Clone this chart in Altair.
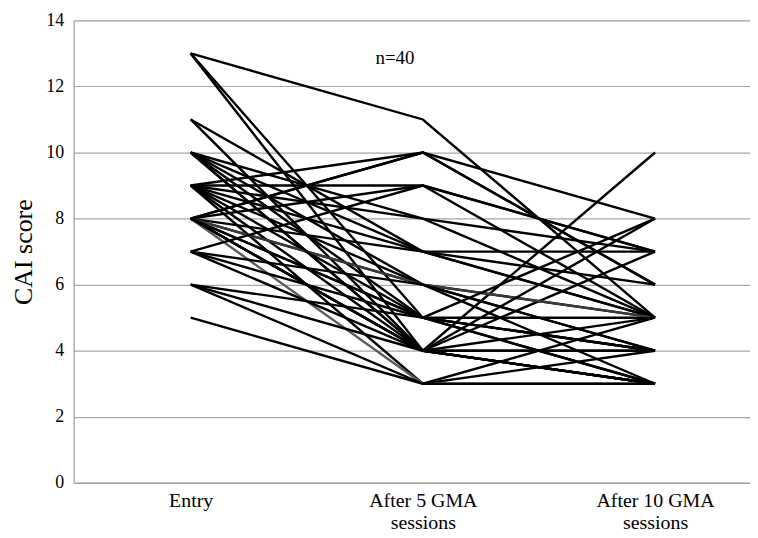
import altair as alt
import pandas as pd

stages = [0, 1, 2]
stage_labels = ["Entry", "After 5 GMA sessions", "After 10 GMA sessions"]

entry = [13, 13, 13, 11, 11, 10, 10, 10, 10, 10,
         9, 9, 9, 9, 9, 9, 9, 9, 8, 8,
         8, 8, 8, 8, 8, 8, 8, 8, 8, 8,
         8, 7, 7, 7, 7, 6, 6, 6, 5, 10]
after5 = [11, 4, 5, 7, 4, 8, 5, 6, 4, 7,
          9, 10, 7, 5, 4, 6, 8, 3, 10, 10,
          9, 7, 6, 5, 4, 4, 4, 3, 6, 5,
          4, 9, 6, 4, 5, 5, 4, 3, 3, 4]
after10 = [5, 3, 4, 5, 4, 7, 3, 5, 3, 6,
           7, 6, 5, 4, 3, 4, 5, 4, 8, 6,
           7, 7, 3, 5, 10, 7, 4, 3, 5, 3,
           5, 5, 4, 3, 8, 4, 3, 5, 3, 8]
line_colors = ["#000000"] * 40
line_colors[27] = "#5a5a5a"
line_colors[28] = "#3a3a3a"

rows = []
for i in range(len(entry)):
    for s, v in zip(stages, [entry[i], after5[i], after10[i]]):
        rows.append({"subject": i, "stage": s, "score": v, "col": line_colors[i]})
df = pd.DataFrame(rows)

x_scale = alt.Scale(domain=[-0.504, 2.409], nice=False, zero=False)
y_scale = alt.Scale(domain=[0, 14], nice=False)

label_expr = ("datum.value == 0 ? 'Entry' : datum.value == 1 ? "
              "['After 5 GMA', 'sessions'] : ['After 10 GMA', 'sessions']")

lines = alt.Chart(df).mark_line(strokeWidth=2.4).encode(
    x=alt.X("stage:Q", scale=x_scale,
            axis=alt.Axis(values=stages, labelExpr=label_expr, title=None,
                          grid=False, ticks=False, labelOverlap=False,
                          labelFlush=False, labelPadding=8,
                          labelFont="Liberation Serif", labelFontSize=20,
                          labelColor="#000000", labelLineHeight=22,
                          labelBaseline="top",
                          domainColor="#a6a6a6", domainWidth=1.5)),
    y=alt.Y("score:Q", scale=y_scale,
            axis=alt.Axis(values=list(range(0, 15, 2)), title="CAI score",
                          ticks=False, labelPadding=10,
                          labelFont="Liberation Serif", labelFontSize=18,
                          labelColor="#000000",
                          titleFont="Liberation Serif", titleFontSize=26,
                          titleFontWeight="normal", titleColor="#000000",
                          titlePadding=9,
                          gridColor="#a6a6a6", gridWidth=1.2, gridOpacity=1,
                          domainColor="#a6a6a6", domainWidth=1.2)),
    detail="subject:N",
    order="stage:Q",
    color=alt.Color("col:N", scale=None),
)

note = alt.Chart(pd.DataFrame({"x": [0.88], "y": [12.85], "t": ["n=40"]})).mark_text(
    font="Liberation Serif", fontSize=19, color="#000000"
).encode(x=alt.X("x:Q", scale=x_scale), y=alt.Y("y:Q", scale=y_scale), text="t:N")

chart = (lines + note).properties(
    width=680, height=465,
    autosize=alt.AutoSizeParams(type="none"),
    padding={"left": 66, "top": 11, "right": 0, "bottom": 54},
).configure_view(stroke=None).configure(background="#ffffff")

chart.save("out.html", embed_options={"renderer": "svg", "actions": False})
